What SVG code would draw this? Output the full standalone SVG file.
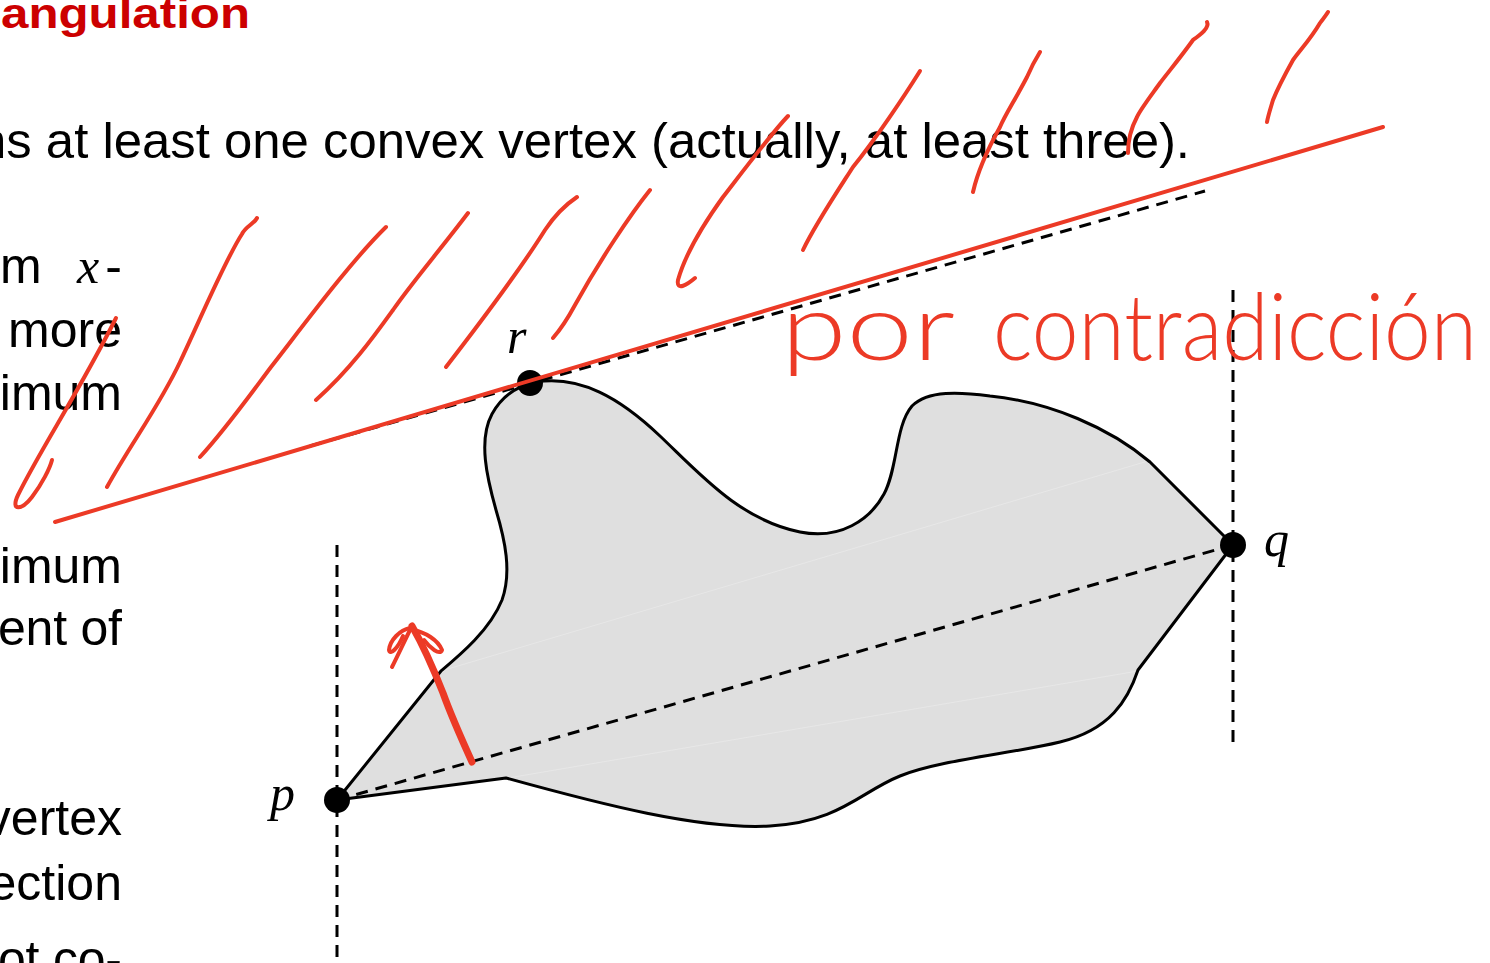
<svg xmlns="http://www.w3.org/2000/svg" width="1490" height="963" viewBox="0 0 1490 963">
  <style>
    .body { font-family: "Liberation Sans", Arial, sans-serif; font-size: 50px; fill: #000; }
    .math { font-family: "Liberation Serif", "Times New Roman", serif; font-style: italic; font-size: 50px; fill: #000; }
    .title { font-family: "Liberation Sans", Arial, sans-serif; font-weight: bold; font-size: 42px; fill: #cc0000; }
    .dash { stroke: #000; stroke-width: 3; stroke-dasharray: 12 8; fill: none; }
    .ink { stroke: #ec3a26; fill: none; stroke-linecap: round; stroke-linejoin: round; }
    .hatch { stroke-width: 4; }
    .hand { font-family: Lato, "Open Sans", "Noto Sans", "Liberation Sans", sans-serif; font-weight: 300; font-size: 92px; fill: #ec3a26; }
    .vertex { fill: #000; }
  </style>

  <rect width="1490" height="963" fill="#ffffff"/>

  <!-- slide text -->
  <g id="slide-text">
    <text class="title" x="1" y="28" textLength="249" lengthAdjust="spacingAndGlyphs">angulation</text>
    <text class="body" x="-22" y="158" textLength="1212" lengthAdjust="spacingAndGlyphs">ns at least one convex vertex (actually, at least three).</text>
    <text class="body" x="0" y="283">m</text>
    <text class="math" x="77" y="283">x</text>
    <text class="body" x="122" y="283" text-anchor="end">-</text>
    <text class="body" x="122" y="347" text-anchor="end">more</text>
    <text class="body" x="122" y="410" text-anchor="end">imum</text>
    <text class="body" x="122" y="583" text-anchor="end">imum</text>
    <text class="body" x="122" y="645" text-anchor="end" textLength="124" lengthAdjust="spacing">ent of</text>
    <text class="body" x="122" y="835" text-anchor="end">vertex</text>
    <text class="body" x="122" y="900" text-anchor="end">ection</text>
    <text class="body" x="122" y="976" text-anchor="end" textLength="124" lengthAdjust="spacing">ot co-</text>
  </g>

  <!-- polygon -->
  <g id="polygon">
    <path d="M337,800 L441,671 C460,655 490,630 502,600 C512,572 505,540 496,510 C487,478 478,440 492,414 C502,396 516,386 536,382 C580,375 620,398 660,436 C700,474 740,520 800,532 C840,540 870,520 884,494 C898,468 895,426 912,406 C928,390 960,392 990,396 C1050,402 1110,428 1150,462 L1233,545 L1138,670 C1128,700 1110,730 1060,742 C1010,754 940,760 900,776 C860,792 840,822 770,826 C700,830 600,804 506,778 Z" fill="#dfdfdf" stroke="none"/>
    <line x1="441" y1="671" x2="1148" y2="461" stroke="#e7e7e7" stroke-width="1"/>
    <line x1="508" y1="778" x2="1138" y2="671" stroke="#e7e7e7" stroke-width="1"/>
    <path d="M337,800 L441,671 C460,655 490,630 502,600 C512,572 505,540 496,510 C487,478 478,440 492,414 C502,396 516,386 536,382 C580,375 620,398 660,436 C700,474 740,520 800,532 C840,540 870,520 884,494 C898,468 895,426 912,406 C928,390 960,392 990,396 C1050,402 1110,428 1150,462 L1233,545 L1138,670 C1128,700 1110,730 1060,742 C1010,754 940,760 900,776 C860,792 840,822 770,826 C700,830 600,804 506,778 Z" fill="none" stroke="#000" stroke-width="3" stroke-linejoin="round"/>
  </g>

  <!-- connectors: dashed lines -->
  <g id="connectors">
    <line class="dash" x1="337" y1="545" x2="337" y2="963"/>
    <line class="dash" x1="1233" y1="290" x2="1233" y2="750"/>
    <line class="dash" x1="337" y1="800" x2="1233" y2="545"/>
    <line class="dash" x1="310" y1="446" x2="1205" y2="191"/>
  </g>

  <!-- vertices -->
  <g id="node-p">
    <circle class="vertex" cx="337" cy="800" r="13"/>
    <text class="math" x="270" y="810">p</text>
  </g>
  <g id="node-q">
    <circle class="vertex" cx="1233" cy="545" r="13"/>
    <text class="math" x="1264" y="556">q</text>
  </g>
  <g id="node-r">
    <circle class="vertex" cx="530" cy="383" r="13"/>
    <text class="math" x="507" y="353">r</text>
  </g>

  <!-- handwritten annotations -->
  <g id="annotations">
    <line class="ink" x1="55" y1="522" x2="1383" y2="127" stroke-width="4"/>
    <g class="ink hatch">
      <path d="M116,318 C80,390 40,450 18,495 C10,512 22,510 32,497 C42,484 50,468 52,460"/>
      <path d="M257,218 C254,224 246,226 242,234 C225,260 200,320 180,362 C160,405 130,445 107,487"/>
      <path d="M386,227 C350,262 300,330 271,367 C250,395 225,430 200,457"/>
      <path d="M468,213 C440,250 410,285 393,310 C375,335 350,370 316,400"/>
      <path d="M577,197 C565,205 555,215 545,230 C520,270 490,310 446,367"/>
      <path d="M650,190 C630,215 600,260 575,305 C568,318 560,330 553,338"/>
      <path d="M788,116 C770,135 740,175 723,197 C705,222 685,255 678,280 C676,292 688,284 695,278"/>
      <path d="M920,71 C905,95 875,140 853,167 C835,195 815,225 803,250"/>
      <path d="M1040,52 C1035,60 1030,70 1027,77 C1015,100 1005,115 1000,127 C990,145 978,170 973,192"/>
      <path d="M1207,22 C1210,28 1200,35 1193,40 C1180,58 1170,70 1160,83 C1150,97 1140,110 1137,117 C1130,130 1128,145 1128,153"/>
      <path d="M1328,12 C1325,17 1322,20 1320,23 C1310,40 1300,50 1293,60 C1283,78 1277,90 1273,100 C1270,110 1268,116 1267,122"/>
    </g>
    <g class="ink">
      <path d="M472,762 C462,740 452,718 443,693 C432,665 420,640 412,626" stroke-width="7"/>
      <path d="M412,626 C405,640 398,655 392,667" stroke-width="4"/>
      <path d="M410,628 C400,630 390,640 389,650 C390,656 398,648 403,636" stroke-width="4"/>
      <path d="M413,630 C425,632 438,640 442,650 C440,656 430,648 424,640" stroke-width="4"/>
    </g>
    <text class="hand" y="360"><tspan x="781" textLength="174" lengthAdjust="spacingAndGlyphs">por</tspan><tspan x="993" textLength="484" lengthAdjust="spacingAndGlyphs">contradicción</tspan></text>
  </g>
</svg>
